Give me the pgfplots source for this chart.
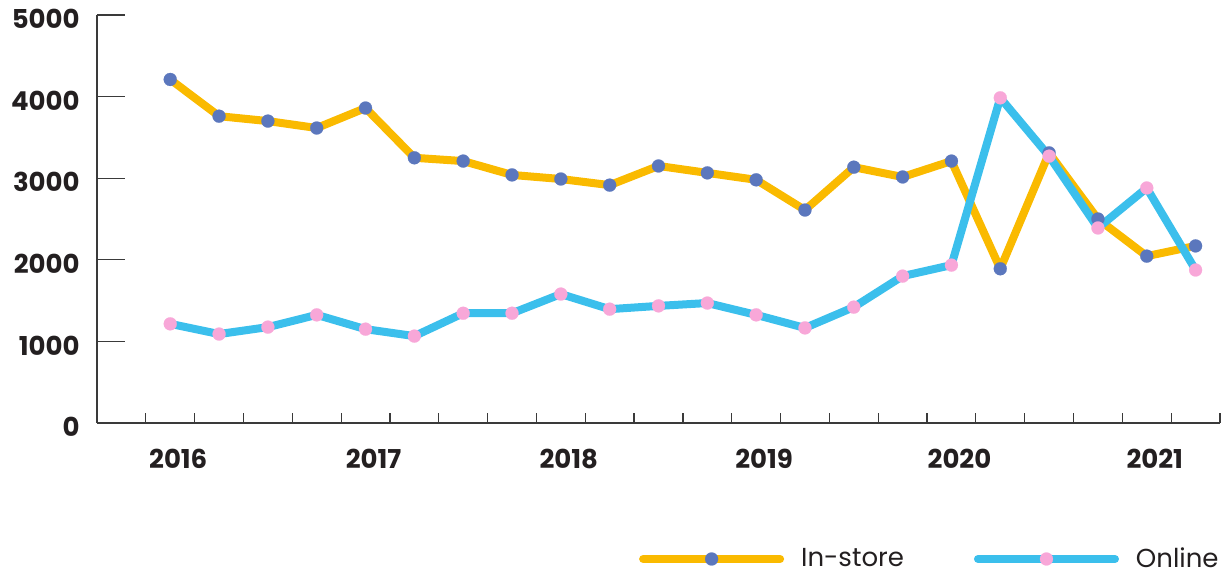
\documentclass[border=0pt]{standalone}
\usepackage{pgfplots}
\pgfplotsset{compat=1.18}
\usepackage{fontspec}
\setmainfont{Poppins}
\definecolor{StoreLine}{HTML}{FABA00}
\definecolor{StoreDot}{HTML}{5B77BD}
\definecolor{WebLine}{HTML}{3BBFEC}
\definecolor{WebDot}{HTML}{F8A7D8}
\definecolor{AxisGray}{HTML}{3A3A3A}
\definecolor{TextDark}{HTML}{231F20}

\begin{document}
\begin{tikzpicture}
    \path[use as bounding box] (-48.5pt,-74pt) rectangle (567pt,211.5pt);
    \begin{axis}[
        at={(0,0)},
        anchor=south west,
        scale only axis,
        width=561.5pt,
        height=204pt,
        xmin=-1.5,
        xmax=21.5,
        ymin=0,
        ymax=5000,
        axis lines=left,
        axis line style={-, AxisGray, line width=0.6pt},
        tick align=inside,
        tick style={AxisGray, line width=0.6pt},
        major tick length=14pt,
        minor tick length=5pt,
        ytick={0,1000,2000,3000,4000,5000},
        xtick={0,4,8,12,16,20},
        xticklabels={2016,2017,2018,2019,2020,2021},
        minor xtick={-0.5,0.5,...,21.5},
        major x tick style={draw=none},
        /pgf/number format/assume math mode=true,
        /pgf/number format/1000 sep={},
        yticklabel style={
            font=\fontsize{13}{13}\selectfont\bfseries,
            text=TextDark,
            anchor=east,
            inner sep=0pt,
            xshift=-8.5pt,
            yshift=-2pt
        },
        xticklabel style={
            font=\fontsize{13}{13}\selectfont\bfseries,
            text=TextDark,
            anchor=north,
            inner sep=0pt,
            yshift=-13pt,
            xshift=4pt
        },
        legend columns=2,
        legend style={
            draw=none,
            fill=none,
            inner sep=0pt,
            nodes={inner sep=1pt},
            at={(1,0)},
            anchor=east,
            yshift=-68pt,
            xshift=0.5pt,
            font=\fontsize{13}{13}\selectfont,
            text=TextDark,
            /tikz/every odd column/.append style={column sep=7.5pt},
            /tikz/every even column/.append style={column sep=34pt}
        },
        legend image code/.code={
            \draw[mark repeat=2, mark phase=2, #1]
                plot coordinates {(2pt,0pt) (36.25pt,0pt) (70.5pt,0pt)};
        }
    ]

    % in-store
    \addplot[
        color=StoreLine,
        line width=4pt,
        line join=round,
        line cap=round,
        mark=*,
        mark size=3.25pt,
        mark options={fill=StoreDot, draw=StoreDot, line width=0.1pt}
    ]
    coordinates {
        (0,4210) (1,3760) (2,3700) (3,3615) (4,3860) (5,3250)
        (6,3210) (7,3040) (8,2990) (9,2915) (10,3150) (11,3065)
        (12,2980) (13,2610) (14,3135) (15,3015) (16,3210) (17,1890)
        (18,3310) (19,2500) (20,2045) (21,2170)
    };
    \addlegendentry{In-store}

    % online
    \addplot[
        color=WebLine,
        line width=4pt,
        line join=round,
        line cap=round,
        mark=*,
        mark size=3.25pt,
        mark options={fill=WebDot, draw=WebDot, line width=0.1pt}
    ]
    coordinates {
        (0,1215) (1,1090) (2,1175) (3,1325) (4,1150) (5,1065)
        (6,1345) (7,1345) (8,1580) (9,1395) (10,1435) (11,1470)
        (12,1325) (13,1165) (14,1420) (15,1800) (16,1935) (17,3985)
        (18,3270) (19,2390) (20,2880) (21,1875)
    };
    \addlegendentry{Online}

    \end{axis}
\end{tikzpicture}
\end{document}
